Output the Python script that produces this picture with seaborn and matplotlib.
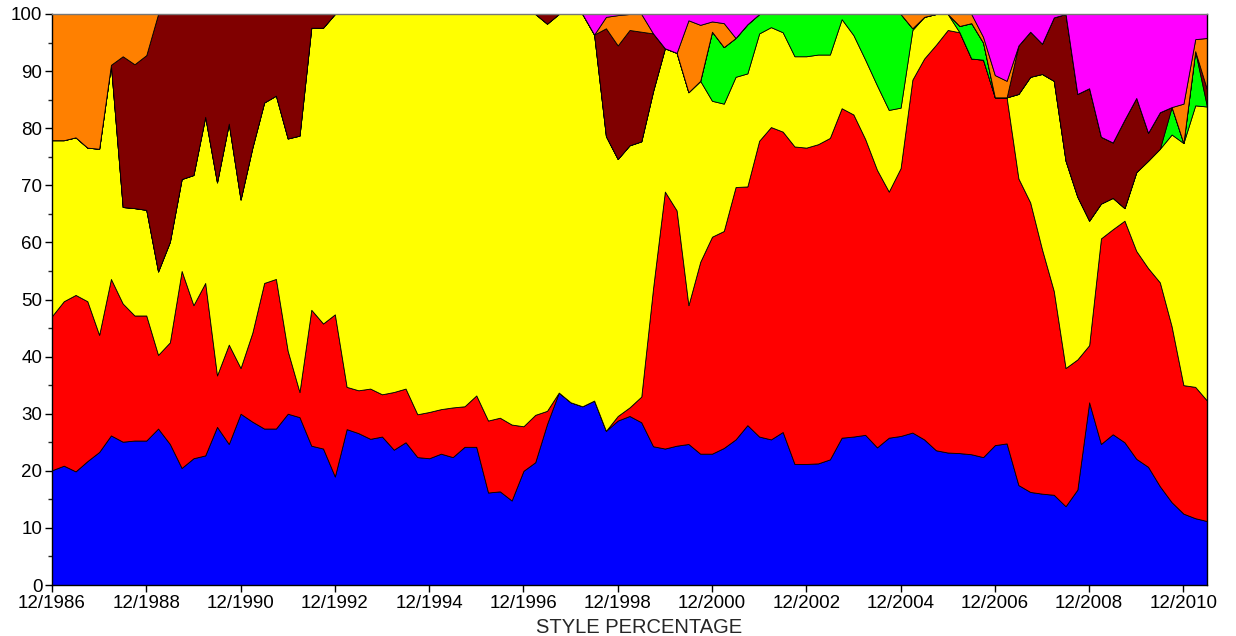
import numpy as np
import pandas as pd
import matplotlib
matplotlib.use("Agg")
import matplotlib.pyplot as plt
import seaborn as sns

# quarterly observations, 12/1986 .. 6/2011
quarters = pd.period_range("1986Q4", periods=99, freq="Q")

# cumulative upper edge of each style band (percent)
blue_top = [20.1, 20.9, 19.9, 21.7, 23.3, 26.2, 25.1, 25.3, 25.3, 27.4,
            24.7, 20.5, 22.2, 22.7, 27.7, 24.7, 30.0, 28.6, 27.4, 27.4,
            30.0, 29.4, 24.4, 23.9, 19.0, 27.3, 26.6, 25.6, 26.0, 23.7,
            25.0, 22.4, 22.2, 23.0, 22.4, 24.2, 24.2, 16.2, 16.4, 14.8,
            20.0, 21.5, 28.2, 33.7, 32.0, 31.3, 32.3, 27.0, 28.8, 29.6,
            28.5, 24.3, 23.9, 24.4, 24.7, 23.0, 23.0, 24.0, 25.5, 28.0,
            26.0, 25.5, 26.8, 21.2, 21.2, 21.3, 22.0, 25.8, 26.0, 26.3,
            24.1, 25.8, 26.1, 26.7, 25.5, 23.6, 23.2, 23.1, 22.9, 22.4,
            24.5, 24.8, 17.5, 16.3, 16.0, 15.8, 13.8, 16.7, 32.0, 24.7,
            26.4, 25.0, 22.1, 20.7, 17.3, 14.5, 12.5, 11.7, 11.2]
red_top = [47.1, 49.7, 50.8, 49.7, 43.8, 53.6, 49.3, 47.2, 47.2, 40.3,
           42.5, 55.0, 49.0, 52.9, 36.7, 42.1, 38.0, 44.2, 52.9, 53.6,
           41.0, 33.8, 48.2, 45.8, 47.4, 34.7, 34.1, 34.4, 33.4, 33.8,
           34.4, 29.9, 30.3, 30.8, 31.1, 31.3, 33.2, 28.8, 29.3, 28.1,
           27.8, 29.8, 30.5, 33.7, 32.0, 31.3, 32.3, 27.0, 29.6, 31.1,
           33.0, 52.0, 68.9, 65.6, 49.0, 56.6, 61.0, 62.0, 69.7, 69.8,
           77.8, 80.2, 79.4, 76.8, 76.6, 77.2, 78.3, 83.5, 82.4, 78.1,
           72.7, 68.9, 73.0, 88.5, 92.2, 94.6, 97.2, 96.8, 92.2, 92.0,
           85.4, 85.4, 71.2, 67.0, 58.8, 51.5, 38.0, 39.5, 42.0, 60.7,
           62.3, 63.8, 58.5, 55.5, 53.0, 45.3, 35.0, 34.7, 32.3]
yellow_top = [77.9, 77.9, 78.4, 76.6, 76.4, 91.1, 66.2, 66.0, 65.7, 54.9,
              60.1, 71.1, 71.8, 82.0, 70.5, 80.8, 67.5, 76.6, 84.5, 85.7,
              78.2, 78.7, 97.6, 97.6, 100, 100, 100, 100, 100, 100,
              100, 100, 100, 100, 100, 100, 100, 100, 100, 100,
              100, 100, 98.3, 100, 100, 100, 96.4, 78.6, 74.6, 77.0,
              77.7, 86.5, 94.0, 93.2, 86.3, 88.3, 84.8, 84.3, 89.0, 89.6,
              96.6, 97.7, 96.8, 92.6, 92.6, 92.9, 92.9, 99.1, 96.3, 92.0,
              87.5, 83.2, 83.6, 97.2, 99.5, 100, 100, 96.8, 92.2, 92.0,
              85.4, 85.4, 86.0, 89.0, 89.5, 88.3, 74.3, 68.0, 63.8, 66.8,
              67.8, 66.0, 72.3, 74.3, 76.4, 78.9, 77.4, 84.0, 83.8]
green_top = [77.9, 77.9, 78.4, 76.6, 76.4, 91.1, 66.2, 66.0, 65.7, 54.9,
             60.1, 71.1, 71.8, 82.0, 70.5, 80.8, 67.5, 76.6, 84.5, 85.7,
             78.2, 78.7, 97.6, 97.6, 100, 100, 100, 100, 100, 100,
             100, 100, 100, 100, 100, 100, 100, 100, 100, 100,
             100, 100, 98.3, 100, 100, 100, 96.4, 78.6, 74.6, 77.0,
             77.7, 86.5, 94.0, 93.2, 86.3, 88.3, 96.9, 94.2, 95.8, 98.2,
             100, 100, 100, 100, 100, 100, 100, 100, 100, 100,
             100, 100, 100, 97.5, 99.5, 100, 100, 97.9, 98.4, 95.0,
             85.4, 85.4, 86.0, 89.0, 89.5, 88.3, 74.3, 68.0, 63.8, 66.8,
             67.8, 66.0, 72.3, 74.3, 76.4, 83.7, 77.4, 93.5, 83.8]
maroon_top = [77.9, 77.9, 78.4, 76.6, 76.4, 91.1, 92.6, 91.2, 92.8, 100,
              100, 100, 100, 100, 100, 100, 100, 100, 100, 100,
              100, 100, 100, 100, 100, 100, 100, 100, 100, 100,
              100, 100, 100, 100, 100, 100, 100, 100, 100, 100,
              100, 100, 100, 100, 100, 100, 96.4, 97.5, 94.5, 97.2,
              96.9, 96.6, 94.0, 93.2, 86.3, 88.3, 96.9, 94.2, 95.8, 98.2,
              100, 100, 100, 100, 100, 100, 100, 100, 100, 100,
              100, 100, 100, 97.5, 99.5, 100, 100, 97.9, 98.4, 95.0,
              85.4, 85.4, 94.5, 96.9, 94.8, 99.4, 100, 86.0, 87.0, 78.5,
              77.5, 81.5, 85.3, 79.2, 82.8, 83.7, 77.4, 93.5, 86.8]
orange_top = [100, 100, 100, 100, 100, 100, 100, 100, 100, 100,
              100, 100, 100, 100, 100, 100, 100, 100, 100, 100,
              100, 100, 100, 100, 100, 100, 100, 100, 100, 100,
              100, 100, 100, 100, 100, 100, 100, 100, 100, 100,
              100, 100, 100, 100, 100, 100, 96.4, 99.5, 99.8, 100,
              100, 96.6, 94.0, 93.2, 98.9, 98.1, 98.7, 98.4, 95.8, 98.2,
              100, 100, 100, 100, 100, 100, 100, 100, 100, 100,
              100, 100, 100, 100, 100, 100, 100, 100, 100, 96.0,
              89.3, 88.3, 94.5, 96.9, 94.8, 99.4, 100, 86.0, 87.0, 78.5,
              77.5, 81.5, 85.3, 79.2, 82.8, 83.7, 84.3, 95.6, 95.8]
magenta_top = [100] * 99

style_colors = ["#0000FF", "#FF0000", "#FFFF00", "#00FF00",
                "#800000", "#FF8000", "#FF00FF"]

tops = np.vstack([np.zeros(99), blue_top, red_top, yellow_top, green_top,
                  maroon_top, orange_top, magenta_top])
shares = np.clip(np.diff(tops, axis=0), 0, None)

sns.set_style("ticks")
plt.rcParams["font.family"] = ["Liberation Sans", "DejaVu Sans"]

fig = plt.figure(figsize=(12.36, 6.36), dpi=100)
ax = fig.add_axes([52 / 1236, 1 - 585 / 636, 1155 / 1236, 571 / 636])

x = np.arange(len(quarters))
ax.stackplot(x, shares, colors=style_colors, edgecolor="black", linewidth=0.6)

ax.set_xlim(0, len(quarters) - 1)
ax.set_ylim(0, 100)
ax.set_xticks(x[::8])
ax.set_xticklabels([q.end_time.strftime("%m/%Y") for q in quarters[::8]])
ax.set_yticks(range(0, 101, 10))
ax.set_yticks(range(5, 100, 10), minor=True)
ax.tick_params(axis="both", which="major", direction="out", length=5,
               width=1, labelsize=13.5, color="black", labelcolor="black",
               pad=2)
ax.tick_params(axis="y", which="minor", direction="out", length=3, width=1)
for s in ax.spines.values():
    s.set_visible(True)
    s.set_color("black")
    s.set_linewidth(1)
ax.spines["top"].set_color("#777777")
ax.set_xlabel("STYLE PERCENTAGE", fontsize=14.5, labelpad=1)
ax.xaxis.set_label_coords(0.508, -0.058)

fig.savefig("out.png", dpi=100)
